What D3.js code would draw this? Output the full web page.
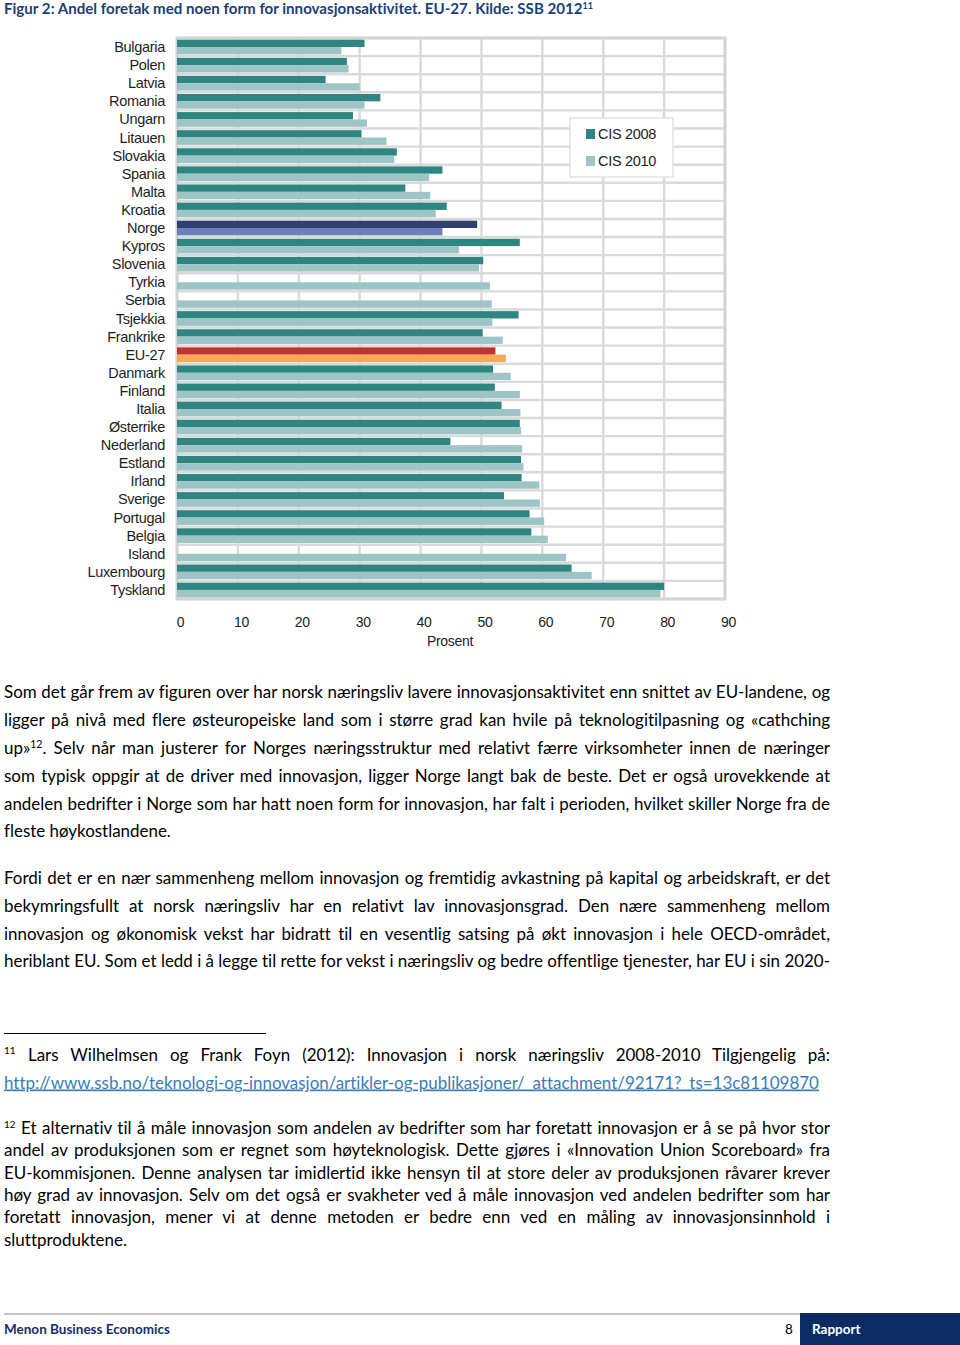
<!DOCTYPE html>
<html><head><meta charset="utf-8">
<script src="https://cdn.jsdelivr.net/npm/d3@7"></script>
<style>
html,body{margin:0;padding:0;background:#fff;}
svg{display:block;}
text{font-variant-ligatures:none;}
</style></head>
<body>
<svg id="page" width="960" height="1345"></svg>
<script>
// ---------- DATA ----------
const categories = ["Bulgaria","Polen","Latvia","Romania","Ungarn","Litauen","Slovakia","Spania","Malta","Kroatia","Norge","Kypros","Slovenia","Tyrkia","Serbia","Tsjekkia","Frankrike","EU-27","Danmark","Finland","Italia","Østerrike","Nederland","Estland","Irland","Sverige","Portugal","Belgia","Island","Luxembourg","Tyskland"];
const cis2008 = [30.8,27.9,24.4,33.4,28.9,30.3,36.1,43.6,37.5,44.3,49.3,56.3,50.3,null,null,56.1,50.2,52.3,51.9,52.2,53.3,56.3,44.9,56.5,56.6,53.7,57.9,58.2,null,64.8,80.0];
const cis2010 = [27.0,28.2,30.0,30.8,31.2,34.4,35.7,41.4,41.6,42.5,43.6,46.3,49.6,51.4,51.7,51.8,53.5,54.0,54.8,56.3,56.4,56.5,56.7,56.9,59.5,59.6,60.3,60.9,63.9,68.1,79.4];
const seriesNames = ["CIS 2008","CIS 2010"];
const tickValues = [0,10,20,30,40,50,60,70,80,90];
const axisTitle = "Prosent";

const titleText = "Figur 2: Andel foretak med noen form for innovasjonsaktivitet. EU-27. Kilde: SSB 2012";
const para1 = [
 ["Som det går frem av figuren over har norsk næringsliv lavere innovasjonsaktivitet enn snittet av EU-landene, og"],
 ["ligger på nivå med flere østeuropeiske land som i større grad kan hvile på teknologitilpasning og «cathching"],
 ["up»", "12", ". Selv når man justerer for Norges næringsstruktur med relativt færre virksomheter innen de næringer"],
 ["som typisk oppgir at de driver med innovasjon, ligger Norge langt bak de beste. Det er også urovekkende at"],
 ["andelen bedrifter i Norge som har hatt noen form for innovasjon, har falt i perioden, hvilket skiller Norge fra de"],
 ["fleste høykostlandene."]
];
const para2 = [
 "Fordi det er en nær sammenheng mellom innovasjon og fremtidig avkastning på kapital og arbeidskraft, er det",
 "bekymringsfullt at norsk næringsliv har en relativt lav innovasjonsgrad. Den nære sammenheng mellom",
 "innovasjon og økonomisk vekst har bidratt til en vesentlig satsing på økt innovasjon i hele OECD-området,",
 "heriblant EU. Som et ledd i å legge til rette for vekst i næringsliv og bedre offentlige tjenester, har EU i sin 2020-"
];
const fn11 = "Lars Wilhelmsen og Frank Foyn (2012): Innovasjon i norsk næringsliv 2008-2010 Tilgjengelig på:";
const fn11link = "http://www.ssb.no/teknologi-og-innovasjon/artikler-og-publikasjoner/_attachment/92171?_ts=13c81109870";
const fn12 = [
 "Et alternativ til å måle innovasjon som andelen av bedrifter som har foretatt innovasjon er å se på hvor stor",
 "andel av produksjonen som er regnet som høyteknologisk. Dette gjøres i «Innovation Union Scoreboard» fra",
 "EU-kommisjonen. Denne analysen tar imidlertid ikke hensyn til at store deler av produksjonen råvarer krever",
 "høy grad av innovasjon. Selv om det også er svakheter ved å måle innovasjon ved andelen bedrifter som har",
 "foretatt innovasjon, mener vi at denne metoden er bedre enn ved en måling av innovasjonsinnhold i",
 "sluttproduktene."
];

// ---------- STYLE ----------
const colors = {base:["#2f8581","#9ec5c5"], "Norge":["#2f3f6e","#6e80bb"], "EU-27":["#bf3330","#f7a957"]};
const navy = "#12306a";
const svg = d3.select("#page");
const BODY = "Lato, 'Noto Sans', sans-serif";
const CH = "'Liberation Sans', Arial, sans-serif";

// ---------- TITLE ----------
const title = svg.append("text").attr("x",4).attr("y",14)
  .attr("font-family",BODY).attr("font-weight","bold").attr("font-size",14).attr("fill","#1b3f7a");
title.append("tspan").text(titleText);
title.append("tspan").attr("dy",-5).attr("font-size",9).text("11");
{ // fit width
  const w = title.node().getComputedTextLength();
  const target = 590;
  title.attr("font-size", 14*target/w);
}

// ---------- CHART ----------
const x = d3.scaleLinear().domain([0,90]).range([177,725]);
const y = d3.scaleBand().domain(categories).range([38,599]);
const sub = d3.scaleBand().domain(seriesNames).range([0,y.bandwidth()]).paddingInner(0).paddingOuter(0.23);
const g = svg.append("g");
const grid = "#dadada";
// background grid
g.append("g").selectAll("line").data(tickValues).join("line")
  .attr("x1",d=>x(d)).attr("x2",d=>x(d)).attr("y1",y.range()[0]).attr("y2",y.range()[1])
  .attr("stroke",grid).attr("stroke-width",2.4);
g.append("g").selectAll("line").data(categories.concat(["__end"])).join("line")
  .attr("x1",x(0)).attr("x2",x(90))
  .attr("y1",(d,i)=> i<categories.length ? y(d) : y.range()[1])
  .attr("y2",(d,i)=> i<categories.length ? y(d) : y.range()[1])
  .attr("stroke",grid).attr("stroke-width",2.4);
// frame
g.append("rect").attr("x",x(0)).attr("y",y.range()[0]).attr("width",x(90)-x(0)).attr("height",y.range()[1]-y.range()[0])
  .attr("fill","none").attr("stroke","#d4d4d4").attr("stroke-width",3);

// bars
const rows = categories.map((c,i)=>({c, v:[cis2008[i],cis2010[i]]}));
const rowG = g.append("g").selectAll("g").data(rows).join("g").attr("transform",d=>`translate(0,${y(d.c)})`);
rowG.selectAll("rect").data(d=>d.v.map((v,k)=>({c:d.c,v,k}))).join("rect")
  .filter(d=>d.v!=null)
  .attr("x",x(0)).attr("y",d=>sub(seriesNames[d.k]))
  .attr("width",d=>x(d.v)-x(0)).attr("height",sub.bandwidth())
  .attr("fill",d=>(colors[d.c]||colors.base)[d.k]);

// category labels
g.append("g").selectAll("text").data(categories).join("text")
  .attr("x",165).attr("y",d=>y(d)+y.bandwidth()/2+5)
  .attr("text-anchor","end").attr("font-family",CH).attr("font-size",14.5).attr("fill","#1e1e1e")
  .attr("letter-spacing",-0.3)
  .text(d=>d);

// axis
const ax = g.append("g").attr("transform","translate(3,615)")
  .call(d3.axisBottom(x).tickValues(tickValues).tickSize(0).tickPadding(0));
ax.select(".domain").remove();
ax.selectAll("text").attr("font-family",CH).attr("font-size",14).attr("fill","#222").attr("dy","0.85em").attr("letter-spacing",-0.3);
g.append("text").attr("x",450).attr("y",646).attr("text-anchor","middle")
  .attr("font-family",CH).attr("font-size",14).attr("fill","#222").attr("letter-spacing",-0.3).text(axisTitle);

// legend
const lg = g.append("g");
lg.append("rect").attr("x",570).attr("y",118).attr("width",103).attr("height",59)
  .attr("fill","#fff").attr("stroke","#e2e2e2").attr("stroke-width",1.5);
seriesNames.forEach((s,i)=>{
  lg.append("rect").attr("x",586).attr("y",129+i*27).attr("width",9).attr("height",10).attr("fill",colors.base[i]);
  lg.append("text").attr("x",598).attr("y",139+i*27).attr("font-family",CH).attr("font-size",14.5)
    .attr("letter-spacing",-0.3).attr("fill","#222").text(s);
});

// ---------- BODY TEXT ----------
function measureSize(str, target, base){
  const t = svg.append("text").attr("font-family",BODY).attr("font-size",base).text(str);
  const w = t.node().getComputedTextLength(); t.remove();
  return base*target/w;
}
const bodySize = measureSize("fleste høykostlandene.",167,16);
const fnSize = measureSize("sluttproduktene.",123,16);

function line(parts, x0, yb, size, justifyTo){
  const t = svg.append("text").attr("x",x0).attr("y",yb).attr("font-family",BODY).attr("font-size",size).attr("fill","#000");
  if (typeof parts === "string") parts=[parts];
  parts.forEach((p,i)=>{
    if (parts.length===3 && i===1){
      t.append("tspan").attr("font-size",size*0.62).attr("dy",-size*0.38).text(p);
    } else if (parts.length===3 && i===2){
      t.append("tspan").attr("dy",size*0.38).text(p);
    } else t.append("tspan").text(p);
  });
  if (justifyTo){
    const w = t.node().getComputedTextLength();
    const n = parts.join("").split(" ").length-1;
    if (n>0) t.attr("word-spacing",(justifyTo-x0-w)/n);
  }
  return t;
}
const p1y = [698,726,754,781.5,809.5,837];
para1.forEach((p,i)=>line(p,4,p1y[i],bodySize, i<para1.length-1 ? 830 : null));
const p2y = [883.5,911.5,939.5,966.5];
para2.forEach((p,i)=>line(p,4,p2y[i],bodySize,830));

// footnotes
svg.append("line").attr("x1",4).attr("x2",266).attr("y1",1033.5).attr("y2",1033.5).attr("stroke","#000").attr("stroke-width",1);
svg.append("text").attr("x",4).attr("y",1054).attr("font-family",BODY).attr("font-size",10).text("11");
line(fn11,28,1060.5,bodySize,830);
svg.append("text").attr("x",4).attr("y",1088.5).attr("font-family",BODY).attr("font-size",bodySize)
  .attr("fill","#3a7db5").attr("text-decoration","underline").text(fn11link);
svg.append("text").attr("x",4).attr("y",1128).attr("font-family",BODY).attr("font-size",10).text("12");
const f12y = [1134,1156,1178.5,1201,1223,1245.5];
fn12.forEach((p,i)=>line(p, i===0?21:4, f12y[i], fnSize, i<fn12.length-1 ? 830 : null));

// ---------- FOOTER ----------
svg.append("line").attr("x1",4).attr("x2",800).attr("y1",1314).attr("y2",1314).attr("stroke","#b0b0b0").attr("stroke-width",1.5);
svg.append("rect").attr("x",800).attr("y",1313).attr("width",160).attr("height",32).attr("fill","#0d2b63");
svg.append("text").attr("x",4).attr("y",1334).attr("font-family",BODY).attr("font-weight","bold").attr("font-size",13.5).attr("fill",navy).text("Menon Business Economics");
svg.append("text").attr("x",785).attr("y",1334).attr("font-family",BODY).attr("font-size",13.5).attr("fill","#000").text("8");
svg.append("text").attr("x",812).attr("y",1334).attr("font-family",BODY).attr("font-weight","bold").attr("font-size",13.5).attr("fill","#fff").text("Rapport");
</script>
</body></html>
